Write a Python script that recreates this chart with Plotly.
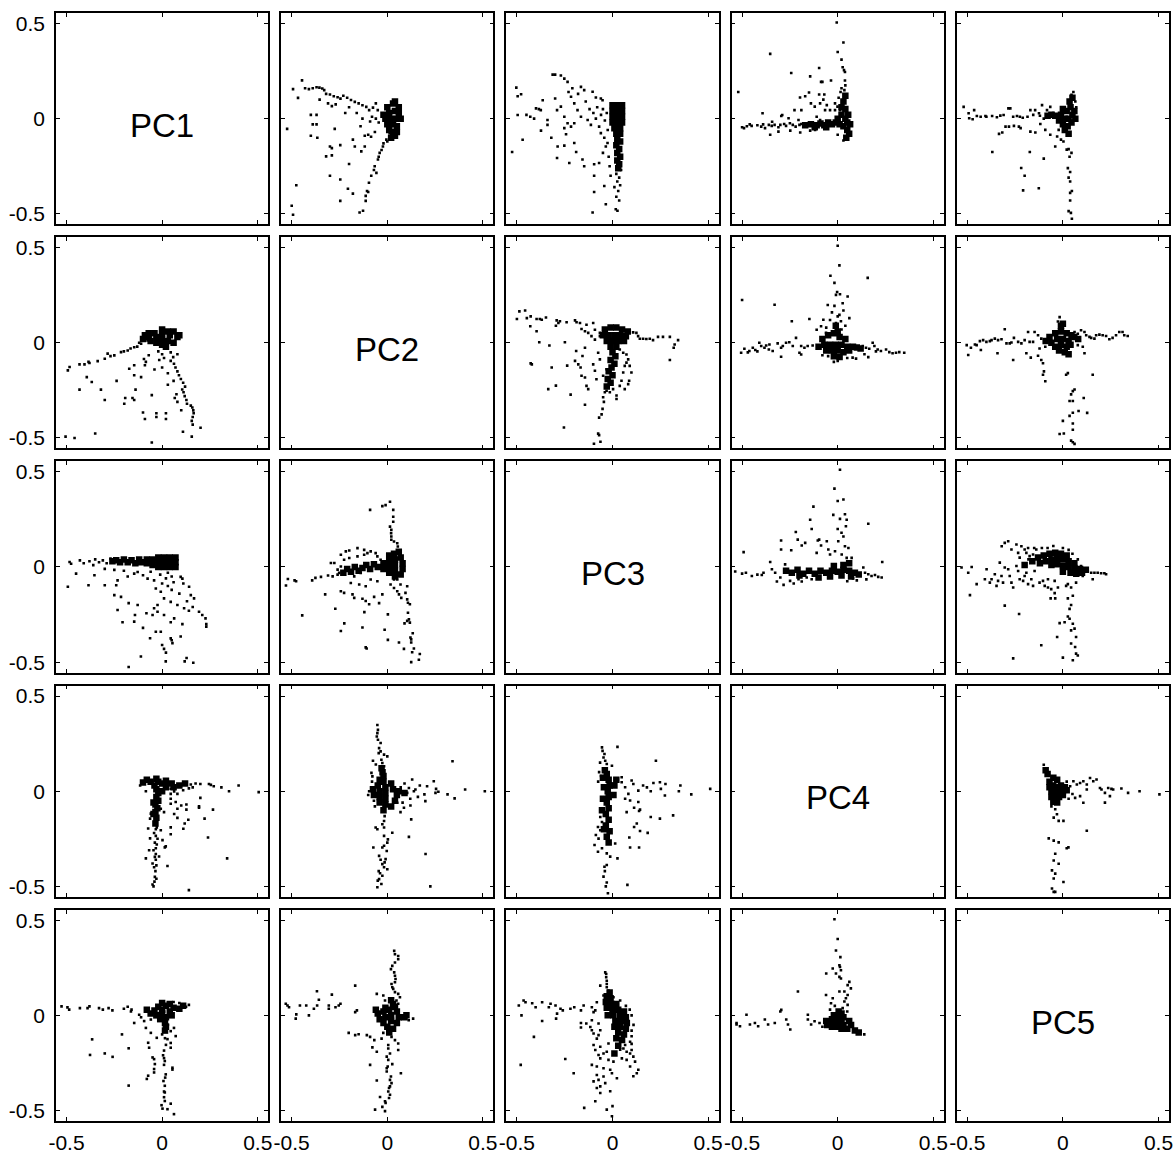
import plotly.graph_objects as go
from plotly.subplots import make_subplots

labels = ["PC1", "PC2", "PC3", "PC4", "PC5"]
tick_vals = [-0.5, 0, 0.5]
tick_text = ["-0.5", "0", "0.5"]

# Each pair (row a, col b):
# tuples are (PC_b, PC_a). "core" lists hold the dense central cloud.

pts_pc2_pc1 = [
    (-0.446, 0.201), (-0.493, 0.155), (-0.467, 0.109), (-0.43, 0.160), (-0.41, 0.155), (-0.39, 0.160),
    (-0.37, 0.165), (-0.355, 0.163), (-0.34, 0.158), (-0.33, 0.150), (-0.354, 0.10), (-0.32, 0.13),
    (-0.30, 0.127), (-0.28, 0.118), (-0.26, 0.112), (-0.245, 0.105), (-0.23, 0.12), (-0.21, 0.11),
    (-0.19, 0.098), (-0.17, 0.088), (-0.15, 0.08), (-0.13, 0.07), (-0.11, 0.062), (-0.095, 0.045),
    (-0.075, 0.058), (-0.06, 0.08), (-0.05, 0.045), (-0.31, 0.08), (-0.29, 0.066), (-0.27, 0.075),
    (-0.40, 0.02), (-0.37, 0.02), (-0.39, -0.03), (-0.37, -0.03), (-0.524, -0.054), (-0.275, -0.054),
    (-0.40, -0.09), (-0.366, -0.10), (-0.30, -0.146), (-0.29, -0.155), (-0.246, -0.139), (-0.18, -0.11),
    (-0.17, -0.146), (-0.136, -0.172), (-0.118, -0.146), (-0.32, -0.198), (-0.29, -0.193), (-0.20, -0.238),
    (-0.30, -0.30), (-0.246, -0.32), (-0.476, -0.35), (-0.206, -0.368), (-0.18, -0.394), (-0.246, -0.432),
    (-0.50, -0.458), (-0.493, -0.505), (-0.145, -0.493), (-0.127, -0.484),
    (0.012, -0.076), (-0.005, -0.11), (-0.023, -0.146), (-0.04, -0.18), (-0.03, -0.165), (-0.049, -0.215),
    (-0.066, -0.25), (-0.057, -0.285), (-0.084, -0.30), (-0.096, -0.337), (-0.106, -0.38), (-0.113, -0.406),
    (-0.113, -0.432), (-0.10, -0.385), (-0.07, -0.27), (-0.045, -0.2), (-0.02, -0.13), (0.0, -0.12),
    (-0.118, -0.09), (-0.10, -0.085), (-0.085, -0.095), (-0.065, -0.07), (-0.06, 0.0), (-0.045, -0.02),
    (-0.08, 0.01), (-0.09, -0.015), (-0.13, 0.0), (-0.16, 0.03), (-0.2, 0.06), (-0.22, 0.03), (-0.14, -0.04),
]
core_pc2_pc1 = [
    (0.00, 0.06), (0.03, 0.08), (0.04, 0.09), (0.01, 0.03), (0.04, 0.04), (0.06, 0.03), (-0.01, 0.0),
    (0.02, 0.0), (0.05, 0.0), (0.07, 0.0), (0.0, -0.03), (0.03, -0.03), (0.05, -0.04), (0.01, -0.06),
    (0.03, -0.07), (0.04, -0.09), (0.02, -0.10), (-0.02, 0.02), (0.06, 0.06), (0.05, -0.07),
]

pts_pc3_pc1 = [
    (-0.503, 0.163), (-0.496, 0.118), (-0.478, 0.128), (-0.47, -0.111), (-0.525, -0.175), (-0.496, 0.019),
    (-0.313, 0.231), (-0.30, 0.231), (-0.27, 0.227), (-0.252, 0.21), (-0.235, 0.193), (-0.365, 0.097),
    (-0.40, 0.054), (-0.385, 0.05), (-0.375, 0.045), (-0.45, 0.02), (-0.43, 0.01), (-0.41, 0.0),
    (-0.34, -0.007), (-0.34, -0.033), (-0.374, -0.063), (-0.32, -0.10), (-0.287, -0.146), (-0.252, -0.142),
    (-0.29, -0.207), (-0.226, -0.233), (-0.20, -0.128), (-0.19, -0.175), (-0.157, -0.215), (-0.148, -0.25),
    (-0.096, -0.24), (-0.07, -0.233), (-0.096, -0.30), (-0.096, -0.385), (-0.043, -0.354), (-0.035, -0.45),
    (-0.104, -0.493), (-0.217, 0.115), (-0.20, 0.08), (-0.165, 0.167), (-0.148, 0.15), (-0.104, 0.141),
    (-0.087, 0.111), (-0.061, 0.106), (-0.052, 0.097), (-0.30, 0.106), (-0.29, 0.045), (-0.27, 0.063),
    (-0.252, 0.01), (-0.235, -0.024), (-0.217, -0.042), (-0.20, -0.024), (-0.183, 0.045), (-0.165, 0.01),
    (-0.13, -0.007), (-0.113, -0.033), (-0.087, 0.0), (-0.07, -0.042), (-0.061, -0.076), (-0.043, -0.1),
    (-0.035, -0.146), (-0.026, -0.128), (-0.252, -0.05), (-0.243, -0.082), (-0.12, 0.05), (-0.10, 0.03),
    (-0.08, 0.06), (-0.06, 0.02), (-0.05, 0.05), (-0.04, -0.01), (-0.03, 0.03), (-0.025, -0.06),
    (-0.02, -0.2), (-0.015, -0.25), (-0.05, -0.18), (-0.14, 0.09), (-0.18, 0.13), (-0.21, 0.16), (-0.23, 0.14),
    (0.02, -0.29), (0.035, -0.31), (0.025, -0.33), (0.04, -0.35), (0.03, -0.38), (0.02, -0.41),
    (0.035, -0.43), (0.017, -0.476), (0.026, -0.484), (0.01, -0.36), (-0.01, -0.30), (0.045, -0.27),
]
core_pc3_pc1 = [
    (0.0, 0.07), (0.025, 0.07), (0.05, 0.07), (0.0, 0.04), (0.025, 0.04), (0.05, 0.04), (0.0, 0.01),
    (0.025, 0.01), (0.05, 0.01), (0.0, -0.02), (0.025, -0.02), (0.05, -0.02), (0.01, -0.05), (0.04, -0.05),
    (0.02, -0.08), (0.04, -0.08), (0.025, -0.11), (0.04, -0.12), (0.02, -0.14), (0.035, -0.16),
    (0.025, -0.18), (0.04, -0.20), (0.025, -0.22), (0.035, -0.24), (0.03, -0.26),
]

pts_pc4_pc1 = [
    (-0.005, 0.505), (0.03, 0.40), (0.0, 0.35), (0.02, 0.31), (0.026, 0.27), (0.033, 0.255), (0.038, 0.245),
    (0.038, 0.20), (0.04, 0.175), (0.02, 0.16), (0.035, 0.15), (0.005, 0.11), (0.015, 0.14),
    (-0.353, 0.34), (-0.243, 0.24), (-0.144, 0.222), (-0.097, 0.266), (-0.087, 0.193), (-0.08, 0.193),
    (-0.035, 0.20), (-0.52, 0.14), (-0.15, 0.137), (-0.197, 0.111), (-0.17, 0.118), (-0.097, 0.127),
    (-0.07, 0.127), (-0.14, 0.08), (-0.226, 0.045), (-0.393, 0.028), (-0.29, 0.019), (-0.19, 0.045),
    (-0.12, 0.063), (-0.092, 0.08), (-0.075, 0.1), (-0.057, 0.071), (-0.04, 0.045), (-0.014, 0.08),
    (-0.001, 0.063), (0.0124, 0.045), (-0.014, 0.045), (-0.066, 0.045), (-0.11, 0.01), (-0.092, -0.007),
    (-0.49, -0.05), (-0.475, -0.04), (-0.45, -0.038), (-0.42, -0.035), (-0.40, -0.042), (-0.39, -0.03),
    (-0.38, -0.05), (-0.36, -0.033), (-0.345, -0.038), (-0.33, -0.033), (-0.31, -0.045), (-0.30, -0.033),
    (-0.28, -0.028), (-0.27, -0.038), (-0.25, -0.024), (-0.235, -0.033), (-0.22, -0.042), (-0.20, -0.033),
    (-0.19, -0.028), (-0.353, -0.085), (-0.31, -0.068), (-0.248, -0.063), (-0.196, -0.073), (-0.144, -0.063),
    (-0.118, -0.059), (-0.343, -0.016), (-0.295, 0.014), (-0.257, 0.002), (-0.205, -0.007), (-0.5, -0.045),
    (-0.46, -0.03), (0.0, -0.085), (0.03, -0.115), (0.04, -0.10),
]
core_pc4_pc1 = [
    (-0.17, -0.035), (-0.14, -0.03), (-0.11, -0.035), (-0.09, -0.025), (-0.07, -0.035), (-0.05, -0.02),
    (-0.03, -0.03), (-0.01, -0.02), (-0.12, -0.045), (-0.06, -0.045),
    (0.0, 0.0), (0.02, 0.02), (0.04, 0.0), (0.05, -0.02), (0.03, -0.04), (0.01, -0.03), (0.04, 0.05),
    (0.03, 0.09), (0.04, 0.12), (0.05, -0.06), (0.06, -0.08), (0.045, -0.1), (0.02, 0.06), (0.055, 0.02),
    (0.065, -0.03),
]

pts_pc5_pc1 = [
    (-0.519, 0.062), (-0.493, 0.028), (-0.49, 0.002), (-0.472, -0.003), (-0.464, 0.045), (-0.45, 0.014),
    (-0.43, 0.01), (-0.405, 0.014), (-0.40, 0.01), (-0.37, 0.014), (-0.345, 0.007), (-0.327, 0.016),
    (-0.31, 0.019), (-0.285, 0.054), (-0.275, 0.054), (-0.26, 0.01), (-0.24, 0.014), (-0.225, 0.01),
    (-0.21, 0.005), (-0.185, 0.01), (-0.17, 0.045), (-0.145, 0.045), (-0.125, 0.028), (-0.109, 0.071),
    (-0.083, 0.045), (-0.066, 0.062), (-0.05, 0.03), (-0.1, 0.0), (-0.12, 0.015), (-0.155, 0.02),
    (-0.334, -0.08), (-0.317, -0.073), (-0.3, -0.042), (-0.282, -0.042), (-0.256, -0.038), (-0.23, -0.042),
    (-0.221, -0.05), (-0.369, -0.175), (-0.173, -0.175), (-0.10, -0.21), (-0.218, -0.259), (-0.20, -0.30),
    (-0.208, -0.377), (-0.126, -0.366), (-0.17, -0.068), (-0.144, -0.073), (-0.118, -0.028), (-0.092, -0.059),
    (-0.066, -0.085), (-0.04, -0.146), (-0.03, -0.094), (-0.022, -0.059), (0.003, -0.12), (-0.01, -0.11),
    (0.03, -0.16), (0.02, -0.163), (0.026, -0.26), (0.038, -0.28), (0.03, -0.31), (0.038, -0.33),
    (0.047, -0.38), (0.038, -0.39), (0.038, -0.43), (0.03, -0.486), (0.042, -0.495), (0.047, -0.526),
    (0.045, -0.18), (0.035, -0.2), (0.055, 0.14), (0.045, 0.125), (0.065, 0.09), (0.07, 0.06),
]
core_pc5_pc1 = [
    (0.0, 0.05), (0.02, 0.04), (0.04, 0.06), (0.05, 0.02), (0.03, 0.0), (0.01, 0.0), (-0.01, 0.02),
    (-0.02, -0.01), (0.0, -0.03), (0.025, -0.04), (0.045, -0.02), (0.06, 0.04), (0.065, 0.0), (0.035, 0.09),
    (0.05, 0.11), (0.01, -0.06), (0.03, -0.08), (-0.04, 0.015), (-0.06, 0.02), (-0.08, 0.015),
]

pts_pc3_pc2 = [
    (-0.50, 0.125), (-0.487, 0.165), (-0.457, 0.17), (-0.448, 0.13), (-0.428, 0.139), (-0.397, 0.125),
    (-0.38, 0.125), (-0.37, 0.121), (-0.348, 0.133), (-0.43, 0.087), (-0.397, 0.061), (-0.383, 0.003),
    (-0.33, -0.014), (-0.422, -0.113), (-0.428, -0.108), (-0.292, 0.118), (-0.283, 0.104), (-0.275, 0.113),
    (-0.296, 0.090), (-0.240, 0.108), (-0.196, 0.118), (-0.188, 0.108), (-0.170, 0.104), (-0.162, 0.073),
    (-0.136, 0.095), (-0.144, 0.061), (-0.127, 0.052), (-0.101, 0.104), (-0.092, 0.069), (-0.110, 0.035),
    (-0.092, 0.017), (-0.066, 0.035), (-0.066, 0.052),
    (0.108, 0.055), (0.125, 0.052), (0.134, 0.035), (0.143, 0.021), (0.160, 0.021), (0.177, 0.02),
    (0.195, 0.021), (0.212, 0.014), (0.238, 0.031), (0.264, 0.031), (0.30, 0.031), (0.343, 0.014),
    (0.325, -0.009), (0.32, -0.026), (0.30, -0.09), (0.038, -0.035), (0.056, -0.052), (0.073, -0.061),
    (0.082, -0.087), (0.09, -0.121), (0.099, -0.156), (0.087, -0.199), (0.082, -0.217), (0.064, -0.243),
    (0.038, -0.226), (0.021, -0.295),
    (-0.249, 0.003), (-0.19, -0.043), (-0.144, -0.026), (-0.157, -0.069), (-0.196, -0.095), (-0.179, -0.113),
    (-0.167, -0.130), (-0.162, -0.173), (-0.144, -0.182), (-0.136, -0.226), (-0.127, -0.243), (-0.144, -0.325),
    (-0.219, -0.272), (-0.296, -0.225), (-0.336, -0.243), (-0.318, -0.13), (-0.254, -0.445), (-0.237, -0.12),
    (-0.049, -0.286), (-0.052, -0.347), (-0.057, -0.376), (-0.07, -0.393), (-0.075, -0.477), (-0.07, -0.485),
    (-0.063, -0.52), (-0.097, -0.53), (-0.04, -0.26), (-0.045, -0.31),
    (-0.031, -0.252), (-0.014, -0.26), (0.003, -0.243), (0.021, -0.277), (0.047, -0.199), (0.056, -0.156),
    (0.064, -0.121), (0.073, -0.104), (-0.031, -0.139), (-0.049, -0.173), (-0.084, -0.191), (-0.092, -0.147),
    (-0.101, -0.113), (-0.066, -0.087), (-0.075, -0.052),
]
core_pc3_pc2 = [
    (-0.04, 0.07), (-0.01, 0.08), (0.02, 0.08), (0.05, 0.07), (0.08, 0.06), (-0.05, 0.04), (-0.02, 0.04),
    (0.01, 0.04), (0.04, 0.04), (0.07, 0.035), (-0.03, 0.01), (0.0, 0.01), (0.03, 0.01), (0.06, 0.01),
    (-0.01, -0.02), (0.02, -0.02), (0.0, -0.05), (0.015, -0.07), (-0.01, -0.09), (0.01, -0.11),
    (-0.005, -0.13), (-0.02, -0.15), (0.0, -0.17), (-0.025, -0.19), (-0.01, -0.21), (-0.03, -0.23),
]

pts_pc4_pc2 = [
    (0.0, 0.51), (0.009, 0.407), (-0.038, 0.352), (-0.017, 0.315), (-0.003, 0.267), (0.012, 0.255),
    (-0.009, 0.252), (0.052, 0.243), (0.026, 0.208), (-0.052, 0.199), (-0.017, 0.194), (0.009, 0.147),
    (0.0, 0.139), (0.061, 0.13), (-0.009, 0.104), (0.017, 0.113), (-0.03, 0.16), (0.03, 0.17), (-0.04, 0.12),
    (0.02, 0.07), (0.04, 0.09), (-0.06, 0.08), (0.157, 0.341),
    (-0.50, 0.225), (-0.33, 0.2), (-0.24, 0.113), (-0.148, 0.125), (-0.218, 0.026), (-0.11, 0.069),
    (-0.087, 0.087), (-0.075, 0.121), (-0.061, 0.052), (-0.191, -0.017), (-0.174, -0.026), (-0.157, -0.017),
    (-0.131, -0.014), (-0.296, -0.073), (-0.2, -0.052), (-0.191, -0.061),
    (-0.505, -0.052), (-0.488, -0.031), (-0.462, -0.043), (-0.444, -0.026), (-0.431, -0.038), (-0.41, 0.0),
    (-0.40, -0.017), (-0.383, -0.026), (-0.374, -0.014), (-0.357, -0.009), (-0.34, -0.043), (-0.314, -0.003),
    (-0.296, -0.026), (-0.287, -0.017), (-0.27, 0.0), (-0.253, 0.003), (-0.235, -0.017), (-0.47, -0.05),
    (-0.42, -0.045), (-0.36, -0.035),
    (0.096, -0.026), (0.113, -0.035), (0.131, -0.017), (0.148, -0.026), (0.165, -0.031), (0.183, 0.0),
    (0.192, -0.017), (0.209, -0.035), (0.226, -0.043), (0.253, -0.035), (0.270, -0.049), (0.287, -0.055),
    (0.305, -0.052), (0.322, -0.049), (0.348, -0.052), (0.078, -0.078), (0.096, -0.083), (0.14, -0.06),
    (0.16, -0.075), (0.2, -0.045),
    (-0.02, -0.1), (0.0, -0.095), (0.05, -0.08), (-0.05, -0.07), (-0.08, -0.065),
]
core_pc4_pc2 = [
    (-0.08, 0.02), (-0.05, 0.04), (-0.02, 0.05), (0.01, 0.03), (0.04, 0.02), (-0.07, -0.01), (-0.04, -0.01),
    (-0.01, -0.01), (0.02, -0.01), (0.05, -0.02), (0.08, -0.02), (-0.06, -0.04), (-0.03, -0.04), (0.0, -0.04),
    (0.03, -0.05), (0.06, -0.04), (-0.02, -0.07), (0.01, -0.075), (-0.1, -0.02), (0.0, 0.06), (-0.01, 0.09),
    (0.1, -0.025), (0.12, -0.03),
]

pts_pc5_pc2 = [
    (-0.503, -0.012), (-0.495, -0.064), (-0.481, -0.026), (-0.46, -0.009), (-0.451, -0.012), (-0.434, 0.009),
    (-0.429, -0.038), (-0.417, 0.014), (-0.40, 0.005), (-0.382, 0.009), (-0.373, 0.014), (-0.356, 0.022),
    (-0.339, 0.014), (-0.342, -0.055), (-0.321, 0.019), (-0.304, 0.071), (-0.295, -0.003), (-0.278, -0.003),
    (-0.269, 0.002), (-0.256, 0.026), (-0.26, -0.09), (-0.234, 0.005), (-0.217, -0.003), (-0.2, 0.014),
    (-0.191, -0.055), (-0.182, 0.057), (-0.174, 0.005), (-0.168, -0.078), (-0.156, 0.005), (-0.13, -0.068),
    (-0.122, -0.03), (-0.113, -0.09), (-0.104, -0.107), (-0.099, -0.15), (-0.104, -0.168), (-0.092, -0.202),
    (-0.092, -0.021), (-0.113, 0.022), (-0.13, 0.04), (-0.148, 0.057),
    (0.061, 0.057), (0.078, 0.048), (0.095, 0.066), (0.113, 0.057), (0.122, 0.04), (0.139, 0.031),
    (0.148, 0.026), (0.165, 0.022), (0.174, 0.04), (0.191, 0.043), (0.208, 0.04), (0.226, 0.036),
    (0.243, 0.019), (0.26, 0.026), (0.278, 0.04), (0.295, 0.057), (0.312, 0.057), (0.321, 0.04),
    (0.339, 0.036), (0.156, -0.168), (0.113, -0.055), (0.078, -0.012), (0.104, -0.021),
    (0.026, -0.159), (0.017, -0.168), (0.052, -0.254), (0.061, -0.245), (0.043, -0.271), (0.035, -0.306),
    (0.052, -0.306), (0.109, -0.29), (0.082, -0.358), (0.052, -0.367), (0.035, -0.384), (0.127, -0.368),
    (0.0, -0.41), (0.052, -0.424), (0.052, -0.457), (-0.017, -0.479), (0.005, -0.476), (0.043, -0.514),
    (0.061, -0.531), (0.052, -0.522), (-0.017, 0.135), (-0.026, 0.112),
]
core_pc5_pc2 = [
    (-0.07, 0.03), (-0.04, 0.05), (-0.01, 0.06), (0.02, 0.05), (0.045, 0.04), (-0.06, 0.0), (-0.03, 0.02),
    (0.0, 0.02), (0.03, 0.01), (-0.04, -0.02), (-0.01, -0.01), (0.02, -0.02), (0.04, -0.01), (-0.02, -0.04),
    (0.01, -0.05), (0.03, -0.06), (-0.01, 0.09), (0.0, 0.1), (0.06, 0.03), (0.08, 0.02), (-0.09, 0.01),
]

pts_pc4_pc3 = [
    (0.012, 0.511), (-0.017, 0.412), (0.0, 0.347), (0.03, 0.355), (-0.023, 0.274), (0.012, 0.253),
    (0.038, 0.277), (0.047, 0.248), (0.043, 0.214), (0.0, 0.2), (-0.127, 0.317), (-0.144, 0.248),
    (-0.136, 0.2), (-0.219, 0.184), (0.16, 0.227), (-0.296, 0.139), (-0.296, 0.092), (-0.243, 0.088),
    (-0.209, 0.144), (-0.188, 0.113), (-0.17, 0.127), (-0.104, 0.139), (-0.097, 0.144), (-0.11, 0.074),
    (-0.087, 0.113), (-0.057, 0.135), (-0.049, 0.092), (-0.04, 0.066), (-0.014, 0.083), (0.003, 0.135),
    (0.038, 0.109), (0.056, 0.1), (0.021, 0.066), (0.047, 0.048), (0.073, 0.048), (0.03, 0.16), (0.02, 0.18),
    (-0.492, 0.078), (-0.536, -0.024), (-0.48, -0.03), (-0.449, -0.047), (-0.397, -0.042), (-0.388, -0.03),
    (-0.353, 0.026), (-0.344, -0.012), (-0.327, -0.03), (-0.318, -0.076), (-0.3, -0.055), (-0.283, -0.094),
    (-0.275, 0.014), (-0.266, -0.02), (-0.249, -0.073), (-0.23, -0.087), (-0.205, -0.064), (-0.188, -0.076),
    (-0.162, -0.055), (-0.136, -0.064), (-0.5, -0.035), (-0.42, -0.04),
    (0.143, -0.03), (0.16, -0.038), (0.177, -0.047), (0.195, -0.042), (0.212, -0.052), (0.23, -0.055),
    (0.233, 0.026), (0.134, -0.003), (0.1, -0.07), (0.08, -0.06), (0.05, -0.075), (0.15, -0.065),
]
core_pc4_pc3 = [
    (-0.27, -0.02), (-0.24, -0.03), (-0.21, -0.015), (-0.18, -0.035), (-0.15, -0.02), (-0.12, -0.035),
    (-0.09, -0.02), (-0.06, -0.03), (-0.03, -0.02), (0.0, -0.025), (0.03, -0.015), (0.06, -0.02),
    (0.09, -0.03), (-0.1, -0.055), (-0.04, -0.05), (0.02, -0.045), (0.07, -0.05), (-0.02, 0.005),
    (0.03, 0.01), (0.06, 0.02), (0.11, -0.04), (-0.2, -0.045),
]

pts_pc5_pc3 = [
    (-0.32, 0.109), (-0.304, 0.127), (-0.286, 0.135), (-0.269, 0.092), (-0.243, 0.118), (-0.234, 0.074),
    (-0.217, 0.109), (-0.226, 0.049), (-0.2, 0.092), (-0.191, 0.074), (-0.182, 0.1), (-0.174, 0.057),
    (-0.156, 0.066), (-0.139, 0.092), (-0.18, 0.04), (-0.15, 0.1), (-0.11, 0.1), (-0.08, 0.1), (-0.05, 0.11),
    (0.0, 0.1), (0.03, 0.09), (0.05, 0.07),
    (-0.53, -0.003), (-0.495, -0.03), (-0.477, 0.0), (-0.451, -0.09), (-0.408, -0.064), (-0.399, -0.012),
    (-0.382, -0.082), (-0.373, -0.064), (-0.356, -0.038), (-0.347, -0.099), (-0.339, -0.073), (-0.33, 0.023),
    (-0.321, -0.047), (-0.313, -0.082), (-0.304, -0.003), (-0.286, -0.012), (-0.278, -0.047), (-0.269, -0.082),
    (-0.26, -0.108), (-0.243, 0.005), (-0.234, -0.021), (-0.226, -0.064), (-0.208, -0.073), (-0.2, -0.047),
    (-0.191, -0.03), (-0.182, -0.09), (-0.165, -0.064), (-0.156, -0.099), (-0.148, -0.021), (-0.122, -0.082),
    (-0.104, -0.073), (-0.095, -0.099), (-0.078, -0.064), (-0.078, -0.108), (-0.061, -0.116), (-0.043, -0.073),
    (-0.486, -0.148), (-0.304, -0.203), (-0.229, -0.247), (-0.26, -0.48), (-0.113, -0.411), (-0.064, -0.165),
    (-0.04, -0.165), (0.026, -0.165), (0.052, -0.151), (-0.043, -0.137), (-0.026, -0.108), (0.017, -0.099),
    (0.095, 0.005), (0.113, -0.012), (0.13, -0.021), (0.148, -0.03), (0.156, -0.064), (0.165, -0.03),
    (0.182, -0.03), (0.2, -0.033), (0.217, -0.033), (0.226, -0.038), (0.078, 0.04), (0.104, -0.047),
    (0.069, -0.082), (0.043, -0.108), (0.026, -0.09),
    (0.026, -0.26), (0.035, -0.272), (0.009, -0.29), (0.052, -0.298), (-0.017, -0.295), (0.061, -0.324),
    (0.043, -0.333), (0.069, -0.368), (-0.03, -0.368), (0.043, -0.402), (0.064, -0.42), (0.069, -0.455),
    (0.0, -0.476), (0.052, -0.49), (0.078, -0.465), (0.043, -0.2), (0.035, -0.22),
]
core_pc5_pc3 = [
    (-0.16, 0.03), (-0.13, 0.05), (-0.1, 0.06), (-0.07, 0.07), (-0.04, 0.075), (-0.01, 0.07), (0.02, 0.06),
    (-0.12, 0.02), (-0.09, 0.03), (-0.06, 0.04), (-0.03, 0.045), (0.0, 0.04), (0.03, 0.03), (0.06, 0.02),
    (-0.06, 0.01), (-0.03, 0.015), (0.0, 0.005), (0.03, 0.0), (0.06, -0.005), (0.09, -0.01), (0.0, -0.025),
    (0.04, -0.03), (0.07, -0.035), (0.1, -0.03), (-0.2, 0.01), (0.12, -0.015),
]

pts_pc5_pc4 = [
    (-0.1, 0.139), (-0.085, 0.12), (0.038, 0.026), (0.055, 0.052), (0.073, 0.035), (0.09, 0.043),
    (0.107, 0.052), (0.125, 0.035), (0.142, 0.069), (0.159, 0.052), (0.176, 0.061), (0.194, 0.017),
    (0.202, 0.009), (0.22, -0.009), (0.237, 0.017), (0.254, 0.012), (0.263, 0.009), (0.306, 0.014),
    (0.341, -0.009), (0.401, 0.0), (0.505, -0.017), (0.064, -0.035), (0.09, -0.026), (0.107, -0.061),
    (0.125, 0.009), (0.22, -0.06), (0.246, -0.026), (0.125, -0.208), (0.003, -0.156), (0.03, -0.04),
    (0.05, -0.015), (0.02, 0.05),
    (-0.04, -0.095), (-0.031, -0.121), (-0.048, -0.139), (-0.022, -0.156), (-0.074, -0.248), (-0.048, -0.26),
    (-0.022, -0.269), (0.02, -0.3), (0.029, -0.295), (-0.04, -0.329), (-0.048, -0.364), (-0.022, -0.381),
    (-0.057, -0.416), (-0.04, -0.433), (0.003, -0.477), (-0.048, -0.459), (-0.057, -0.511), (-0.048, -0.529),
    (-0.04, -0.529), (-0.06, -0.08),
]
core_pc5_pc4 = [
    (-0.07, 0.05), (-0.05, 0.07), (-0.03, 0.06), (-0.07, 0.02), (-0.05, 0.03), (-0.03, 0.02), (-0.01, 0.03),
    (0.01, 0.02), (-0.06, 0.0), (-0.04, 0.0), (-0.02, 0.0), (0.0, 0.0), (0.02, 0.005), (-0.06, -0.03),
    (-0.04, -0.025), (-0.02, -0.03), (0.0, -0.02), (-0.05, -0.055), (-0.03, -0.06), (-0.08, 0.09),
    (-0.09, 0.11),
]

# (a, b) -> (scattered points, dense core), tuples are (PC_b, PC_a)
pairs = {
    (1, 2): (pts_pc2_pc1, core_pc2_pc1),
    (1, 3): (pts_pc3_pc1, core_pc3_pc1),
    (1, 4): (pts_pc4_pc1, core_pc4_pc1),
    (1, 5): (pts_pc5_pc1, core_pc5_pc1),
    (2, 3): (pts_pc3_pc2, core_pc3_pc2),
    (2, 4): (pts_pc4_pc2, core_pc4_pc2),
    (2, 5): (pts_pc5_pc2, core_pc5_pc2),
    (3, 4): (pts_pc4_pc3, core_pc4_pc3),
    (3, 5): (pts_pc5_pc3, core_pc5_pc3),
    (4, 5): (pts_pc5_pc4, core_pc5_pc4),
}

W, H = 1176, 1157
ML, MR, MT, MB = 56, 3, 13, 27
GAP = 13
n = 5
plot_w = W - ML - MR
plot_h = H - MT - MB
FONT = "Liberation Sans, Arial, Helvetica, sans-serif"

fig = make_subplots(rows=n, cols=n,
                    horizontal_spacing=GAP / plot_w,
                    vertical_spacing=GAP / plot_h)

def add_pts(points, r, c, swap, size):
    if swap:
        xs = [p[1] for p in points]
        ys = [p[0] for p in points]
    else:
        xs = [p[0] for p in points]
        ys = [p[1] for p in points]
    fig.add_trace(go.Scatter(x=xs, y=ys, mode="markers",
                             marker=dict(symbol="square", size=size, color="black",
                                         line=dict(width=0)),
                             hoverinfo="x+y", showlegend=False), row=r, col=c)

for (a, b), (pts, core) in pairs.items():
    # panel row a, col b: x = PC_b, y = PC_a
    add_pts(core, a, b, False, 6.5)
    add_pts(pts, a, b, False, 2.6)
    # panel row b, col a: x = PC_a, y = PC_b
    add_pts(core, b, a, True, 6.5)
    add_pts(pts, b, a, True, 2.6)

for i in range(n):
    k = i * n + i + 1
    fig.add_annotation(x=0, y=-0.035, text=labels[i], showarrow=False,
                       font=dict(family=FONT, size=33, color="black"),
                       xref="x" if k == 1 else f"x{k}",
                       yref="y" if k == 1 else f"y{k}")

rng = [-0.555, 0.555]
common = dict(range=rng, tickvals=tick_vals, ticktext=tick_text,
              ticks="inside", ticklen=4, tickwidth=1.2, tickcolor="black",
              showline=True, linecolor="black", linewidth=1.6, mirror="ticks",
              showgrid=False, zeroline=False, fixedrange=True,
              tickfont=dict(family=FONT, size=21, color="black"))
for r in range(1, n + 1):
    for c in range(1, n + 1):
        fig.update_xaxes(showticklabels=(r == n), ticklabelstandoff=2, row=r, col=c, **common)
        fig.update_yaxes(showticklabels=(c == 1), ticklabelstandoff=5, row=r, col=c, **common)

fig.update_layout(width=W, height=H, margin=dict(l=ML, r=MR, t=MT, b=MB, pad=0),
                  paper_bgcolor="white", plot_bgcolor="white", showlegend=False)

fig.write_html("out.html", config={"displayModeBar": False},
               post_script="document.body.style.margin='0px';document.body.style.overflow='hidden';")
